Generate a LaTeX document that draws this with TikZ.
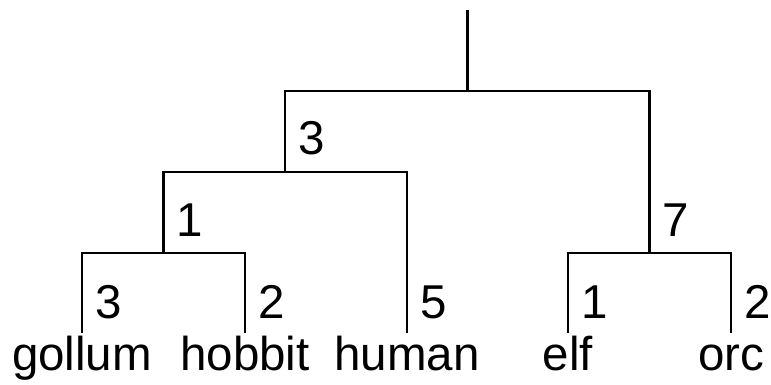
\documentclass[tikz,border=0pt]{standalone}
\usepackage{fontspec}
\setmainfont{Liberation Sans}
\usetikzlibrary{calc}
\begin{document}
\begin{tikzpicture}[x=1pt,y=-1pt,
  edge/.style={draw=black,line width=2.3pt},
  leaf/.style={inner sep=0pt,anchor=base,font=\fontsize{47.5}{50}\selectfont},
  lab/.style={inner sep=0pt,anchor=base west,font=\fontsize{47.5}{50}\selectfont}]
\path[use as bounding box] (0,0) rectangle (771,385);
% junctions
\coordinate (top) at (467.5,10);
\coordinate (n0) at (467.5,91);
\coordinate (nL) at (285,172);
\coordinate (nR) at (649.5,253);
\coordinate (nLL) at (163.5,253);
\coordinate (tgollum) at (82,333);
\coordinate (thobbit) at (245,333);
\coordinate (thuman) at (407,333);
\coordinate (telf) at (568,333);
\coordinate (torc) at (731,333);
% leaves
\node[leaf] (gollum) at (82,370) {gollum};
\node[leaf] (hobbit) at (245,370) {hobbit};
\node[leaf] (human) at (407,370) {human};
\node[leaf] (elf) at (568,370) {elf};
\node[leaf] (orc) at (731,370) {orc};
% connectors
\draw[edge] (top) -- (n0);
\draw[edge] (n0) -| (nL);
\draw[edge] (n0) -| (nR);
\draw[edge] (nL) -| (nLL);
\draw[edge] (nL) -| (thuman);
\draw[edge] (nLL) -| (tgollum);
\draw[edge] (nLL) -| (thobbit);
\draw[edge] (nR) -| (telf);
\draw[edge] (nR) -| (torc);
% branch lengths
\node[lab] (lnL) at ($(nL)+(13,-17)$) {3};
\node[lab] (lnR) at ($(nR)+(13,-17)$) {7};
\node[lab] (lnLL) at ($(nLL)+(13,-17)$) {1};
\node[lab] (lgollum) at ($(tgollum)+(13,-15)$) {3};
\node[lab] (lhobbit) at ($(thobbit)+(13,-15)$) {2};
\node[lab] (lhuman) at ($(thuman)+(13,-15)$) {5};
\node[lab] (lelf) at ($(telf)+(13,-15)$) {1};
\node[lab] (lorc) at ($(torc)+(13,-15)$) {2};
\end{tikzpicture}
\end{document}
